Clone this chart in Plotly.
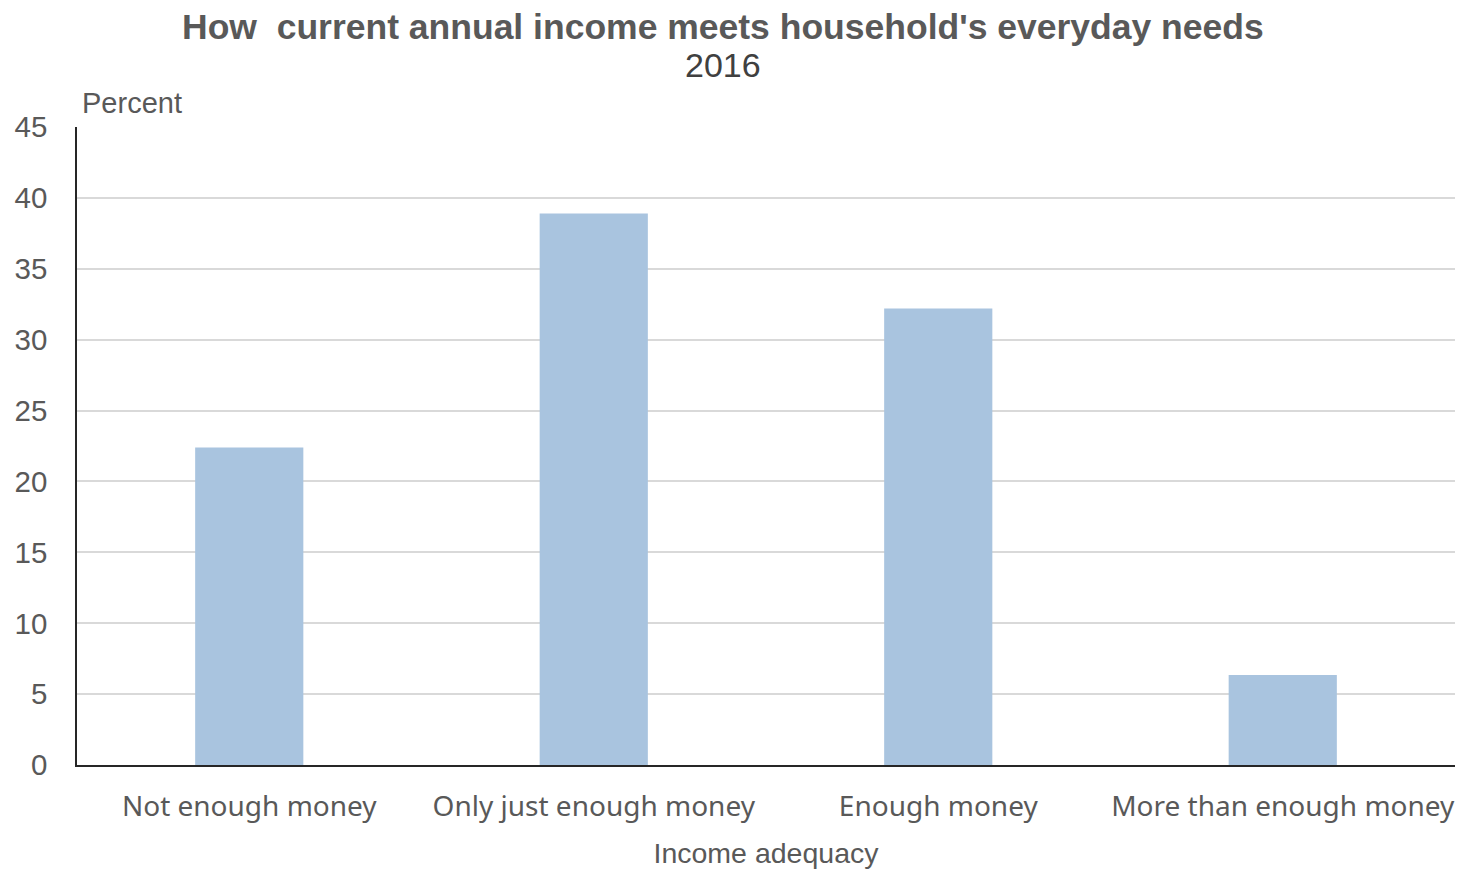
import plotly.graph_objects as go

categories = ["Not enough money", "Only just enough money", "Enough money", "More than enough money"]
values = [22.4, 38.9, 32.2, 6.35]
y_ticks = [0, 5, 10, 15, 20, 25, 30, 35, 40, 45]

fig = go.Figure()
fig.add_trace(go.Bar(x=categories, y=values, marker=dict(color="#A9C4DF", line=dict(width=0))))

fig.update_layout(
    width=1458, height=869,
    margin=dict(l=77, r=3, t=127, b=104),
    plot_bgcolor="white", paper_bgcolor="white",
    bargap=0.686,
    showlegend=False,
    font=dict(family="Liberation Sans", color="#595959"),
)
fig.update_yaxes(
    range=[0, 45], tickvals=y_ticks, showgrid=True, gridcolor="#D9D9D9", gridwidth=1.5,
    showline=True, linecolor="#262626", linewidth=1.5, ticks="",
    tickfont=dict(family="Liberation Sans", size=29.5, color="#595959"),
    zeroline=False, ticklabelstandoff=22, automargin=False,
)
fig.update_xaxes(
    showline=True, linecolor="#262626", linewidth=2, ticks="",
    tickfont=dict(family="Noto Sans", size=28, color="#595959"),
    ticklabelstandoff=15, automargin=False,
    title=dict(text="Income adequacy", font=dict(family="Liberation Sans", size=28.5, color="#595959"), standoff=29),
)
fig.add_annotation(text="<b>How  current annual income meets household's everyday needs</b>",
                   xref="paper", yref="paper", x=(722.5-77)/1378, y=1 + (127-27)/638,
                   showarrow=False, yanchor="middle", xanchor="center",
                   font=dict(family="Liberation Sans", size=35.5, color="#595959"))
fig.add_annotation(text="2016", xref="paper", yref="paper", x=(723-77)/1378, y=1 + (127-65)/638,
                   showarrow=False, yanchor="middle", xanchor="center",
                   font=dict(family="Liberation Sans", size=34, color="#404040"))
fig.add_annotation(text="Percent", xref="paper", yref="paper", x=(80-77)/1378, y=1 + (127-103)/638,
                   showarrow=False, yanchor="middle", xanchor="left",
                   font=dict(family="Liberation Sans", size=29, color="#595959"))

fig.write_html("out.html", config={"displayModeBar": False},
               post_script="document.body.style.margin='0';")
